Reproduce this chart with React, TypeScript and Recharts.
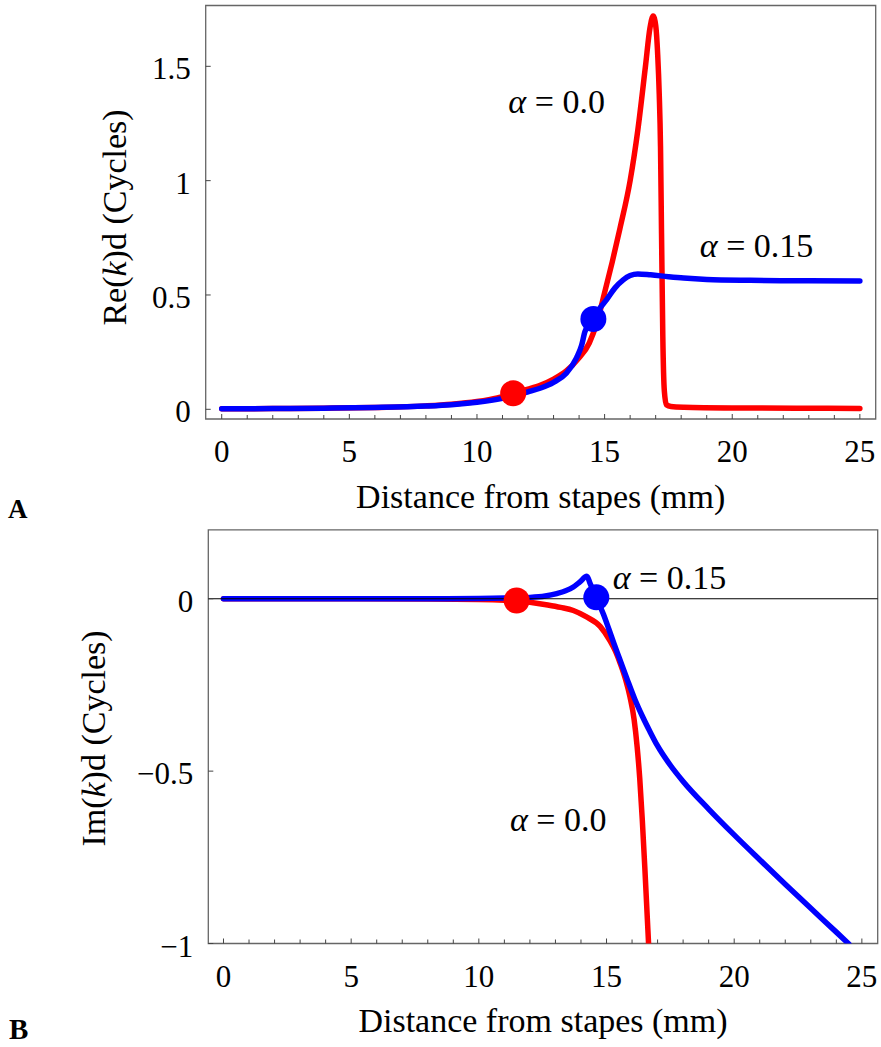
import React from 'react';
import { LineChart, Line, XAxis, YAxis, ReferenceArea, ReferenceDot, ReferenceLine } from 'recharts';

const FONT = '"Liberation Serif", "Times New Roman", Times, serif';

// ---------- axes ----------
const xTicks = [0, 1, 2, 3, 4, 5, 6, 7, 8, 9, 10, 11, 12, 13, 14, 15, 16, 17, 18, 19, 20, 21, 22, 23, 24, 25];
const xLabelEvery = 5;
const reYTicks = [0, 0.5, 1, 1.5];
const imYTicks = [-1, -0.5, 0];
const reXDomain = [-0.627, 25.62];
const reYDomain = [-0.0424, 1.766];
const imXDomain = [-0.595, 25.62];
const imYDomain = [-1, 0.2];

const xTitle = 'Distance from stapes (mm)';

// ---------- data: Re(k)d ----------
const reAlpha0 = [
  { x: 0, y: 0.002 }, { x: 2, y: 0.003 }, { x: 4, y: 0.005 }, { x: 6, y: 0.008 }, { x: 8, y: 0.015 },
  { x: 9, y: 0.022 }, { x: 10, y: 0.034 }, { x: 10.8, y: 0.05 }, { x: 11.42, y: 0.07 }, { x: 12, y: 0.088 },
  { x: 12.5, y: 0.106 }, { x: 13, y: 0.132 }, { x: 13.5, y: 0.168 }, { x: 14, y: 0.225 }, { x: 14.4, y: 0.29 },
  { x: 14.7, y: 0.38 }, { x: 15, y: 0.51 }, { x: 15.3, y: 0.645 }, { x: 15.6, y: 0.79 }, { x: 16, y: 1.0 },
  { x: 16.3, y: 1.22 }, { x: 16.6, y: 1.5 }, { x: 16.78, y: 1.67 }, { x: 16.9, y: 1.72 }, { x: 17.0, y: 1.68 },
  { x: 17.08, y: 1.55 }, { x: 17.14, y: 1.38 }, { x: 17.19, y: 1.15 }, { x: 17.23, y: 0.77 }, { x: 17.28, y: 0.32 },
  { x: 17.34, y: 0.08 }, { x: 17.42, y: 0.02 }, { x: 17.6, y: 0.012 }, { x: 18.1, y: 0.009 }, { x: 20, y: 0.006 },
  { x: 22.5, y: 0.005 }, { x: 25, y: 0.004 },
];
const reAlpha15 = [
  { x: 0, y: 0.002 }, { x: 2, y: 0.003 }, { x: 4, y: 0.005 }, { x: 6, y: 0.008 }, { x: 8, y: 0.014 },
  { x: 9, y: 0.02 }, { x: 10, y: 0.031 }, { x: 11, y: 0.048 }, { x: 11.42, y: 0.058 }, { x: 12, y: 0.076 },
  { x: 12.5, y: 0.093 }, { x: 13, y: 0.118 }, { x: 13.5, y: 0.158 }, { x: 13.9, y: 0.225 }, { x: 14.1, y: 0.28 },
  { x: 14.23, y: 0.34 }, { x: 14.4, y: 0.375 }, { x: 14.56, y: 0.395 }, { x: 14.8, y: 0.44 }, { x: 15.08, y: 0.48 },
  { x: 15.4, y: 0.53 }, { x: 15.73, y: 0.566 }, { x: 16, y: 0.585 }, { x: 16.3, y: 0.592 }, { x: 16.8, y: 0.588 },
  { x: 17.5, y: 0.58 }, { x: 18.1, y: 0.574 }, { x: 19, y: 0.568 }, { x: 20.7, y: 0.564 }, { x: 23, y: 0.562 },
  { x: 25, y: 0.561 },
];
const reMarkers = [
  { x: 11.42, y: 0.07, color: '#ff0000' },
  { x: 14.56, y: 0.395, color: '#0000ff' },
];
const reLabels = [
  { x: 11.23, y: 1.297, text: '0.0' },
  { x: 18.73, y: 0.667, text: '0.15' },
];

// ---------- data: Im(k)d ----------
const imAlpha0 = [
  { x: 0, y: 0 }, { x: 4, y: 0 }, { x: 8, y: -0.001 }, { x: 10, y: -0.002 }, { x: 11, y: -0.004 },
  { x: 11.48, y: -0.006 }, { x: 12, y: -0.01 }, { x: 12.7, y: -0.018 }, { x: 13.2, y: -0.025 }, { x: 13.7, y: -0.034 },
  { x: 14.2, y: -0.052 }, { x: 14.75, y: -0.08 }, { x: 15.14, y: -0.122 }, { x: 15.35, y: -0.152 }, { x: 15.55, y: -0.19 },
  { x: 15.75, y: -0.235 }, { x: 15.92, y: -0.285 }, { x: 16.08, y: -0.35 }, { x: 16.2, y: -0.43 }, { x: 16.3, y: -0.52 },
  { x: 16.4, y: -0.64 }, { x: 16.5, y: -0.78 }, { x: 16.6, y: -0.93 }, { x: 16.66, y: -1.02 }, { x: 16.72, y: -1.12 },
];
const imAlpha15 = [
  { x: 0, y: 0 }, { x: 4, y: 0 }, { x: 8, y: 0 }, { x: 10, y: 0.001 }, { x: 11, y: 0.002 },
  { x: 12, y: 0.004 }, { x: 12.6, y: 0.008 }, { x: 13.05, y: 0.015 }, { x: 13.4, y: 0.023 }, { x: 13.7, y: 0.034 },
  { x: 13.96, y: 0.049 }, { x: 14.23, y: 0.065 }, { x: 14.36, y: 0.044 }, { x: 14.59, y: 0.004 }, { x: 14.88, y: -0.045 },
  { x: 15.1, y: -0.09 }, { x: 15.3, y: -0.132 }, { x: 15.5, y: -0.172 }, { x: 15.8, y: -0.232 }, { x: 16.1, y: -0.29 },
  { x: 16.4, y: -0.34 }, { x: 16.7, y: -0.385 }, { x: 17, y: -0.427 }, { x: 17.5, y: -0.483 }, { x: 18, y: -0.53 },
  { x: 19, y: -0.61 }, { x: 20, y: -0.685 }, { x: 21, y: -0.757 }, { x: 22, y: -0.828 }, { x: 23, y: -0.898 },
  { x: 24, y: -0.967 }, { x: 24.5, y: -1.002 },
];
const imMarkers = [
  { x: 11.48, y: -0.005, color: '#ff0000' },
  { x: 14.6, y: 0.004, color: '#0000ff' },
];
const imLabels = [
  { x: 15.24, y: 0.0275, text: '0.15' },
  { x: 11.22, y: -0.673, text: '0.0' },
];

// ---------- styling constants ----------
const RED = '#ff0000';
const BLUE = '#0000ff';
const FRAME = '#666666';
const TICK_FS = 31;
const TITLE_FS = 34;
const X_TICK_MARGIN = 21;
const Y_TICK_MARGIN = 15;

const fmtNum = (v: number) => {
  const s = String(Math.abs(v));
  return v < 0 ? '\u2212' + s : s;
};

const XTick = (props: any) => {
  const { x, y, payload } = props;
  const v = payload.value as number;
  const major = v % xLabelEvery === 0;
  const axisY = y - X_TICK_MARGIN;
  return (
    <g>
      <line x1={x} x2={x} y1={axisY} y2={axisY - (major ? 5 : 4)} stroke="#444" strokeWidth={1} />
      {major && (
        <text x={x} y={y} dy="0.71em" textAnchor="middle" fontFamily={FONT} fontSize={TICK_FS} fill="#000">
          {fmtNum(v)}
        </text>
      )}
    </g>
  );
};

const YTick = (props: any) => {
  const { x, y, payload } = props;
  const axisX = x + Y_TICK_MARGIN;
  return (
    <g>
      <line x1={axisX} x2={axisX + 5} y1={y} y2={y} stroke="#444" strokeWidth={1} />
      <text x={x} y={y} dy="0.42em" textAnchor="end" fontFamily={FONT} fontSize={TICK_FS} fill="#000">
        {fmtNum(payload.value)}
      </text>
    </g>
  );
};

const xTitleContent = (dyFromAxis: number) => (p: any) => {
  const vb = p.viewBox || { x: 0, y: 0, width: 0, height: 0 };
  return (
    <text x={vb.x + vb.width / 2} y={vb.y + dyFromAxis} textAnchor="middle" fontFamily={FONT} fontSize={TITLE_FS} fill="#000">
      {xTitle}
    </text>
  );
};

const yTitleContent = (prefix: string, dxFromPlot: number, dyCenter: number) => (p: any) => {
  const vb = p.viewBox || { x: 0, y: 0, width: 0, height: 0 };
  const tx = vb.x + vb.width - dxFromPlot;
  const ty = vb.y + vb.height / 2 + dyCenter;
  return (
    <text x={tx} y={ty} transform={`rotate(-90, ${tx}, ${ty})`} textAnchor="middle" fontFamily={FONT} fontSize={TITLE_FS} fill="#000">
      {prefix + '('}
      <tspan fontStyle="italic">k</tspan>
      {')d (Cycles)'}
    </text>
  );
};

const alphaLabel = (text: string) => (p: any) => {
  const vb = p.viewBox || { x: 0, y: 0, width: 0, height: 0 };
  const cx = vb.x + vb.width / 2;
  const cy = vb.y + vb.height / 2;
  return (
    <text x={cx} y={cy} textAnchor="start" fontFamily={FONT} fontSize={TITLE_FS} fill="#000">
      <tspan fontStyle="italic">{'\u03B1'}</tspan>
      {' = ' + text}
    </text>
  );
};

export default function App() {
  return (
    <div style={{ position: 'absolute', left: 0, top: 0, width: 881, height: 1047, background: '#fff' }}>
      {/* Panel A */}
      <div style={{ position: 'absolute', left: 0, top: 0 }}>
        <LineChart width={881} height={530} margin={{ top: 5.5, right: 5.3, bottom: 11, left: 105.7 }}>
          <XAxis
            type="number"
            dataKey="x"
            domain={reXDomain}
            allowDataOverflow
            ticks={xTicks}
            interval={0}
            tickSize={0}
            tickMargin={X_TICK_MARGIN}
            tickLine={false}
            axisLine={false}
            tick={XTick}
            height={100}
            label={{ content: xTitleContent(89.3) }}
          />
          <YAxis
            type="number"
            dataKey="y"
            domain={reYDomain}
            allowDataOverflow
            ticks={reYTicks}
            interval={0}
            tickSize={0}
            tickMargin={Y_TICK_MARGIN}
            tickLine={false}
            axisLine={false}
            tick={YTick}
            width={100}
            label={{ content: yTitleContent('Re', 80.2, 5.25) }}
          />
          <ReferenceArea x1={reXDomain[0]} x2={reXDomain[1]} y1={reYDomain[0]} y2={reYDomain[1]} fill="none" fillOpacity={0} stroke={FRAME} strokeWidth={1.3} ifOverflow="visible" />
          <Line data={reAlpha0} dataKey="y" type="monotone" stroke={RED} strokeWidth={5.5} dot={false} activeDot={false} isAnimationActive={false} strokeLinecap="round" strokeLinejoin="round" />
          <Line data={reAlpha15} dataKey="y" type="monotone" stroke={BLUE} strokeWidth={5.5} dot={false} activeDot={false} isAnimationActive={false} strokeLinecap="round" strokeLinejoin="round" />
          {reMarkers.map((m, i) => (
            <ReferenceDot key={'rm' + i} x={m.x} y={m.y} r={13} fill={m.color} stroke="none" />
          ))}
          {reLabels.map((l, i) => (
            <ReferenceDot key={'rl' + i} x={l.x} y={l.y} r={1} fill="none" stroke="none" label={{ content: alphaLabel(l.text) }} />
          ))}
        </LineChart>
      </div>

      {/* Panel B */}
      <div style={{ position: 'absolute', left: 0, top: 520 }}>
        <LineChart width={881} height={527} margin={{ top: 9.8, right: 3.3, bottom: 3.5, left: 108.3 }}>
          <XAxis
            type="number"
            dataKey="x"
            domain={imXDomain}
            allowDataOverflow
            ticks={xTicks}
            interval={0}
            tickSize={0}
            tickMargin={X_TICK_MARGIN}
            tickLine={false}
            axisLine={false}
            tick={XTick}
            height={100}
            label={{ content: xTitleContent(88.5) }}
          />
          <YAxis
            type="number"
            dataKey="y"
            domain={imYDomain}
            allowDataOverflow
            ticks={imYTicks}
            interval={0}
            tickSize={0}
            tickMargin={Y_TICK_MARGIN}
            tickLine={false}
            axisLine={false}
            tick={YTick}
            width={100}
            label={{ content: yTitleContent('Im', 103.8, 1.85) }}
          />
          <ReferenceArea x1={imXDomain[0]} x2={imXDomain[1]} y1={imYDomain[0]} y2={imYDomain[1]} fill="none" fillOpacity={0} stroke={FRAME} strokeWidth={1.3} ifOverflow="visible" />
          <Line data={imAlpha0} dataKey="y" type="monotone" stroke={RED} strokeWidth={5.5} dot={false} activeDot={false} isAnimationActive={false} strokeLinecap="round" strokeLinejoin="round" />
          <Line data={imAlpha15} dataKey="y" type="monotone" stroke={BLUE} strokeWidth={5.5} dot={false} activeDot={false} isAnimationActive={false} strokeLinecap="round" strokeLinejoin="round" />
          <ReferenceLine y={0} stroke="#000" strokeWidth={1.2} />
          {imMarkers.map((m, i) => (
            <ReferenceDot key={'im' + i} x={m.x} y={m.y} r={13} fill={m.color} stroke="none" />
          ))}
          {imLabels.map((l, i) => (
            <ReferenceDot key={'il' + i} x={l.x} y={l.y} r={1} fill="none" stroke="none" label={{ content: alphaLabel(l.text) }} />
          ))}
        </LineChart>
      </div>

      {/* Panel letters */}
      <svg width={881} height={1047} style={{ position: 'absolute', left: 0, top: 0, pointerEvents: 'none' }}>
        <text x={8} y={518.3} fontFamily={FONT} fontWeight="bold" fontSize={27} fill="#000">A</text>
        <text x={9} y={1039} fontFamily={FONT} fontWeight="bold" fontSize={29} fill="#000">B</text>
      </svg>
    </div>
  );
}
